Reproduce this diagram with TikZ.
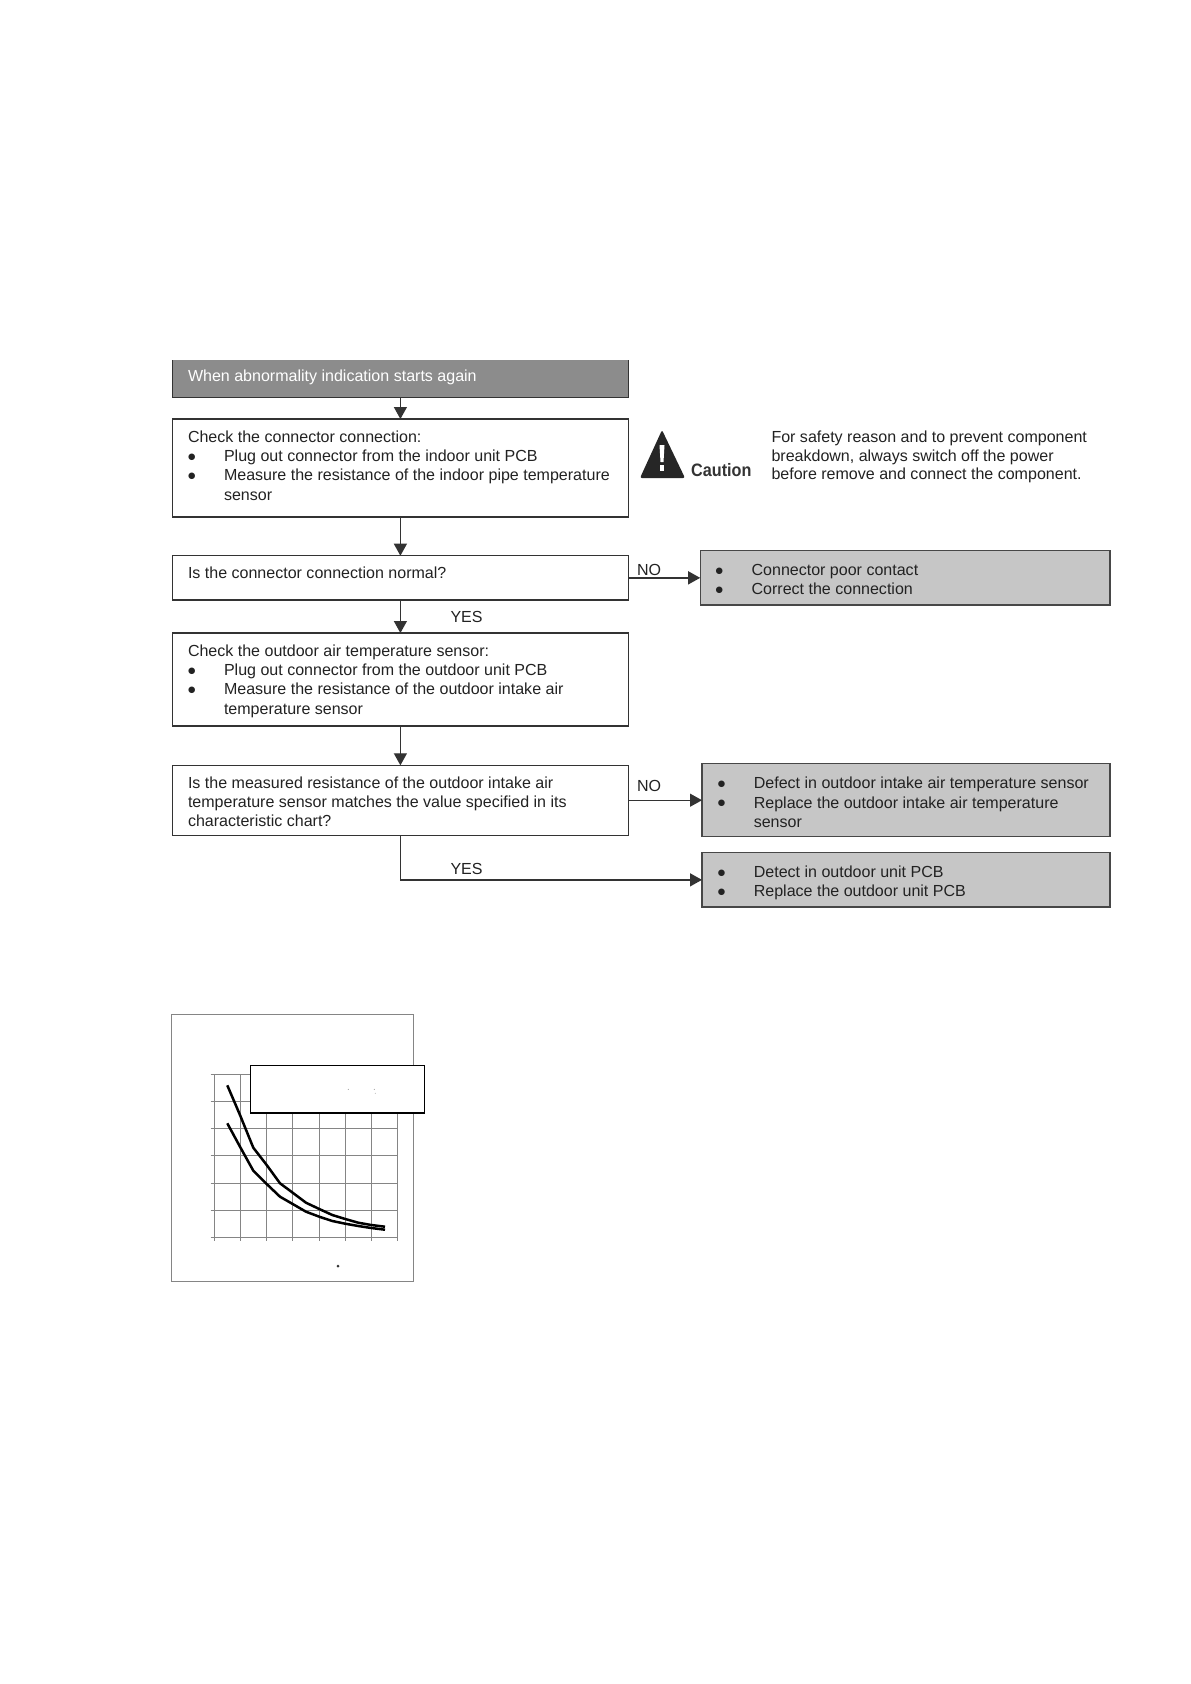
\documentclass[tikz,border=0pt]{standalone}
\usepackage{fontspec}
\setmainfont{Liberation Sans}
\newfontfamily\bulfont{DejaVu Sans}
\usetikzlibrary{arrows.meta,calc}
\definecolor{ink}{HTML}{333333}
\definecolor{txtc}{HTML}{222222}
\definecolor{hdr}{HTML}{8C8C8C}
\definecolor{res}{HTML}{C6C6C6}
\definecolor{gridc}{HTML}{858585}
\newcommand{\bul}[1]{\makebox[36pt][l]{\raisebox{2.3pt}{\bulfont\fontsize{8.5}{9}\selectfont ●}}#1}
\newcommand{\hng}[1]{\hspace*{36pt}#1}
\tikzset{
  x=1pt,y=-1pt,
  boxn/.style={draw=ink,line width=1.3pt,fill=white,anchor=north west,inner sep=0pt,outer sep=0pt},
  resbox/.style={boxn,fill=res,draw=ink!90},
  txt/.style={anchor=north west,inner sep=0pt,outer sep=0pt,align=left,text=txtc,yshift=13.5pt,
    font=\fontsize{16.03}{19.3}\selectfont,execute at begin node=\strut},
  arr/.style={draw=ink,line width=1.3pt,-{Triangle[length=12pt,width=13pt]}},
  grd/.style={draw=gridc,line width=1.2pt},
  crv/.style={draw=black,line width=2.5pt,line join=round},
}
\begin{document}
\begin{tikzpicture}
\useasboundingbox[fill=white] (0,0) rectangle (1191,1684);

% boxes
\node[anchor=north west,fill=hdr,inner sep=0pt,outer sep=0pt,minimum width=456.2pt,minimum height=37.7pt] (b1) at (172.3,360) {};
\draw[ink,line width=1.3pt] (b1.north west) -- (b1.south west) -- (b1.south east) -- (b1.north east);
\node[boxn,minimum width=456.2pt,minimum height=98pt] (b2) at (172.3,419) {};
\node[boxn,minimum width=456.2pt,minimum height=44.3pt] (b3) at (172.3,555.7) {};
\node[boxn,minimum width=456.2pt,minimum height=93pt] (b4) at (172.3,633) {};
\node[boxn,minimum width=456.2pt,minimum height=70pt] (b5) at (172.3,765.3) {};
\node[resbox,minimum width=409.8pt,minimum height=54.3pt] (ra) at (700.2,550.7) {};
\node[resbox,minimum width=408pt,minimum height=73pt] (rb) at (702,763.7) {};
\node[resbox,minimum width=408pt,minimum height=54.3pt] (rc) at (702,852.7) {};

% connectors
\draw[arr] (b1.south) -- (b2.north);
\draw[arr] (b2.south) -- (b3.north);
\draw[arr] (b3.south) -- (b4.north);
\draw[arr] (b4.south) -- (b5.north);
\draw[arr] (b3.east) -- (ra.west);
\draw[arr] (b5.east |- rb.west) -- (rb.west);
\draw[arr] (b5.south) |- (rc.west);

% texts
\node[txt,text=white] (t1) at (188,381.7) {When abnormality indication starts again};
\node[txt] (t2) at (188,444.2) {Check the connector connection:\\
  \bul{Plug out connector from the indoor unit PCB}\\
  \bul{Measure the resistance of the indoor pipe temperature}\\
  \hng{sensor}};
\node[txt] (t3) at (188,578.3) {Is the connector connection normal?};
\node[txt] (t4) at (188,658) {Check the outdoor air temperature sensor:\\
  \bul{Plug out connector from the outdoor unit PCB}\\
  \bul{Measure the resistance of the outdoor intake air}\\
  \hng{temperature sensor}};
\node[txt] (t5) at (188,790) {Is the measured resistance of the outdoor intake air\\
  temperature sensor matches the value specified in its\\
  characteristic chart?};
\node[txt] (yes1) at (450.5,622) {YES};
\node[txt] (yes2) at (450.5,874) {YES};
\node[txt] (no1) at (637,575) {NO};
\node[txt] (no2) at (637,791.7) {NO};
\node[txt,font=\fontsize{16.03}{18.5}\selectfont] (note) at (771.5,444.8) {For safety reason and to prevent component\\
  breakdown, always switch off the power\\
  before remove and connect the component.};
\node[txt] (ta) at (715.6,577.7) {\bul{Connector poor contact}\\ \bul{Correct the connection}};
\node[txt] (tb) at (717.8,790.6) {\bul{Defect in outdoor intake air temperature sensor}\\
  \bul{Replace the outdoor intake air temperature}\\
  \hng{sensor}};
\node[txt] (tc) at (717.8,879.5) {\bul{Detect in outdoor unit PCB}\\ \bul{Replace the outdoor unit PCB}};

% caution sign
\fill[black!85,rounded corners=2pt] (662,430) -- (685,478) -- (640,478) -- cycle;
\fill[white] (659.5,445) -- (664.5,445) -- (663.5,462) -- (660.5,462) -- cycle;
\fill[white] (660,465) rectangle (664,471);
\node[anchor=base west,inner sep=0pt,text=ink,font=\bfseries\fontsize{18}{20}\selectfont,xscale=.9,transform shape] (caution) at (691,476.7) {Caution};

% chart frame
\draw[gridc,line width=1pt] (171.7,1014) rectangle (413,1281);
% grid
\foreach \gx in {214.3,240.3,266.3,292.7,319.3,345.3,371.3,397.3}
  \draw[grd] (\gx,1074.3) -- (\gx,1241);
\foreach \gy in {1074.3,1101.3,1128.3,1155.3,1183.3,1210.3,1237.3}
  \draw[grd] (210.5,\gy) -- (397.3,\gy);
% curves
\draw[crv] (227.3,1085.3) -- (240,1115) -- (253.3,1147.7) -- (266.7,1165) -- (280,1183.3) -- (292.7,1192.7) -- (306,1202.7) -- (319.3,1209) -- (332.3,1215) -- (345.3,1219) -- (358.3,1222.7) -- (371.3,1225) -- (385,1226.7);
\draw[crv] (227.3,1123.3) -- (240,1146.7) -- (253.3,1170.7) -- (266.7,1184) -- (280,1196.7) -- (292.7,1204) -- (306,1211.7) -- (319.3,1216.7) -- (332.3,1221) -- (345.3,1223.7) -- (358.3,1226) -- (371.3,1228) -- (385,1229.7);
% legend box
\node[boxn,draw=black,line width=1.1pt,minimum width=174pt,minimum height=47.7pt] (legend) at (250.5,1065.3) {};
\fill[gridc] (348.3,1089.3) circle (.5);
\fill[gridc] (374.3,1089.3) circle (.5);
\fill[gridc] (375.3,1093.3) circle (.4);
\fill[ink] (338,1266) circle (1.5);
\end{tikzpicture}
\end{document}
